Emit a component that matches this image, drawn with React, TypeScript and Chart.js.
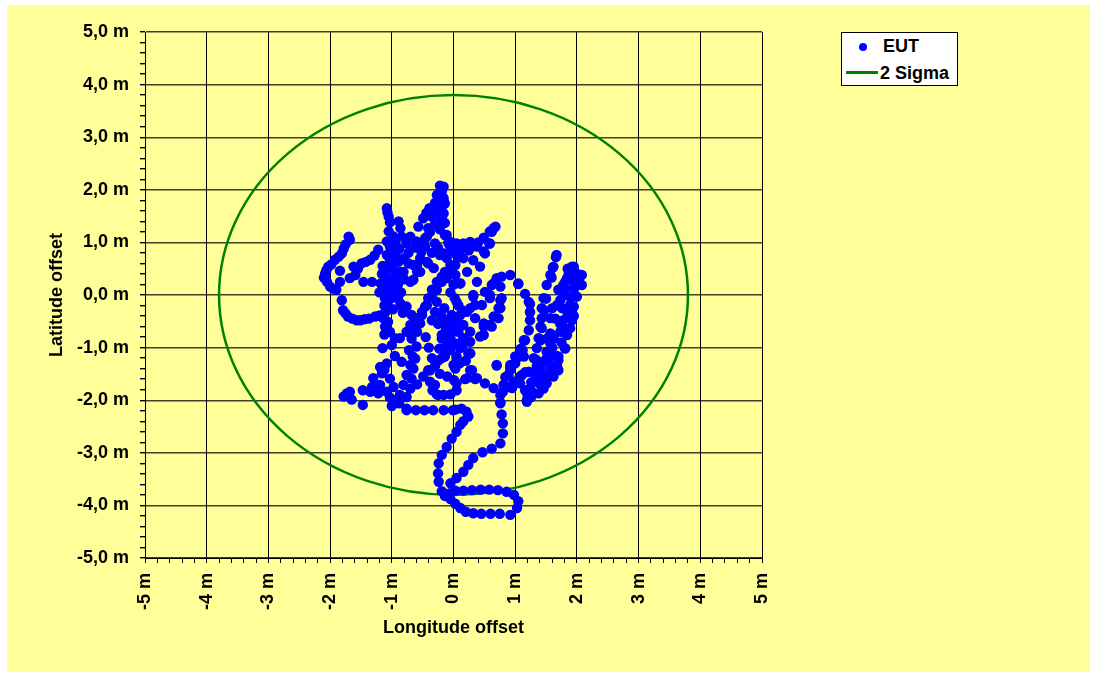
import React, { useEffect, useRef } from 'react';
import { Chart, registerables } from 'chart.js';

Chart.register(...registerables);

// ---------- labels ----------
const SERIES_EUT = 'EUT';
const SERIES_SIGMA = '2 Sigma';
const X_TITLE = 'Longitude offset';
const Y_TITLE = 'Latitude offset';
const MAJOR_TICKS = [-5, -4, -3, -2, -1, 0, 1, 2, 3, 4, 5];
const X_TICK_LABELS = ['-5 m', '-4 m', '-3 m', '-2 m', '-1 m', '0 m', '1 m', '2 m', '3 m', '4 m', '5 m'];
const Y_TICK_LABELS = ['-5,0 m', '-4,0 m', '-3,0 m', '-2,0 m', '-1,0 m', '0,0 m', '1,0 m', '2,0 m', '3,0 m', '4,0 m', '5,0 m'];
const MINOR_STEP = 0.2;
const SIGMA2_RADIUS = 3.8;

// ---------- EUT track (metres, [longitude, latitude]) ----------
const TRACK_SOUTH_LOOP: [number, number][] = [
  [-0.76, -2.19], [-0.61, -2.19], [-0.47, -2.19], [-0.33, -2.19], [-0.16, -2.19], [-0.01, -2.19], [0.03, -2.18], [0.13, -2.16],
  [0.21, -2.22], [0.24, -2.31], [0.16, -2.40], [0.11, -2.47], [0.05, -2.60], [-0.03, -2.73], [-0.11, -2.89], [-0.19, -3.04],
  [-0.24, -3.20], [-0.25, -3.39], [-0.24, -3.55], [-0.19, -3.73], [-0.14, -3.82], [-0.05, -3.88], [0.03, -3.97], [0.11, -4.05],
  [0.20, -4.12], [0.32, -4.15], [0.45, -4.16], [0.60, -4.16], [0.75, -4.16], [0.92, -4.18], [1.03, -4.05], [1.05, -3.92],
  [0.98, -3.80], [0.86, -3.74], [0.72, -3.71], [0.58, -3.70], [0.44, -3.70], [0.30, -3.71], [0.16, -3.72], [0.03, -3.72],
  [-0.06, -3.77], [-0.05, -3.58], [0.05, -3.48], [0.16, -3.36], [0.24, -3.23], [0.32, -3.10], [0.47, -2.99], [0.62, -2.92],
  [0.76, -2.82], [0.80, -2.63], [0.80, -2.44], [0.78, -2.27], [0.76, -2.04],
];

const TRACK_SOUTH_WEST: [number, number][] = [
  [-1.73, -1.87], [-1.78, -1.93], [-1.65, -1.99], [-1.68, -1.84], [-1.47, -2.09], [-1.47, -1.81], [-1.35, -1.84], [-1.32, -1.75],
  [-1.30, -1.58], [-1.19, -1.71], [-1.22, -1.87], [-1.19, -1.37], [-1.16, -1.49], [-1.08, -1.30], [-1.08, -1.84], [-1.03, -1.95],
  [-1.00, -2.11], [-1.03, -1.59], [-1.15, -1.01], [-0.95, -1.16], [-0.88, -2.06], [-0.76, -1.94], [-0.87, -1.90], [-0.81, -1.71],
  [-0.76, -1.52], [-0.70, -1.33], [-0.66, -1.17], [-0.60, -0.98], [-0.62, -1.21], [-0.65, -1.40], [-0.68, -1.59], [-0.70, -1.78],
  [-0.84, -1.27], [-0.76, -2.16], [-0.97, -1.75], [-1.26, -1.80], [-1.12, -1.42], [-0.93, -2.00], [-0.72, -1.05],
];

const TRACK_WEST_LOOP: [number, number][] = [
  [-1.70, 1.11], [-1.68, 1.05], [-1.75, 0.96], [-1.81, 0.79], [-1.92, 0.67], [-2.03, 0.54], [-2.08, 0.41], [-2.10, 0.33],
  [-2.05, 0.25], [-2.00, 0.16], [-1.90, 0.10], [-1.84, 0.46], [-1.84, 0.25], [-1.68, 0.32], [-1.62, 0.54], [-1.49, 0.60],
  [-1.35, 0.67], [-1.22, 0.86], [-1.59, 0.38], [-1.46, 0.25], [-1.32, 0.25], [-1.18, 0.22], [-1.08, 0.32],
  [-1.78, 0.88], [-1.86, 0.73], [-1.98, 0.58], [-2.06, 0.47], [-2.07, 0.30], [-1.95, 0.12], [-1.55, 0.50], [-1.42, 0.63],
  [-1.28, 0.75],
  [-1.81, -0.10], [-1.79, -0.29], [-1.71, -0.41], [-1.57, -0.48], [-1.44, -0.46], [-1.27, -0.41], [-1.11, -0.34], [-0.98, -0.27],
  [-0.85, -0.20], [-1.75, -0.35], [-1.64, -0.45], [-1.51, -0.48], [-1.37, -0.45], [-1.20, -0.39],
];

const TRACK_WEST_ARM: [number, number][] = [
  [-1.08, 1.65], [-1.07, 1.57], [-1.05, 1.49], [-1.03, 1.38], [-0.89, 1.40], [-0.86, 1.27], [-0.84, 1.11], [-1.05, 1.21],
  [-1.08, 1.02], [-1.03, 0.92], [-0.94, 0.79], [-0.89, 0.63], [-0.73, 0.60], [-0.76, 0.98], [-0.65, 0.57], [-0.54, 0.44],
  [-1.08, 0.76], [-0.86, 0.44], [-0.70, 0.25], [-0.97, 0.13], [-1.03, 0.63], [-0.81, 0.44], [-0.92, 0.38], [-0.65, 0.29],
  [-0.59, 0.44], [-0.73, 0.80], [-0.95, 1.00], [-0.70, 1.11],
  [-1.14, 0.03], [-1.11, -0.06], [-1.03, 0.06], [-0.95, 0.00], [-0.86, -0.16], [-0.76, -0.22], [-0.68, -0.38], [-0.70, -0.57],
  [-0.76, -0.70], [-0.87, -0.82], [-0.95, -0.82], [-1.03, -0.70], [-1.06, -0.51], [-1.11, -0.60], [-1.14, -0.44], [-1.09, -0.29],
  [-0.82, -0.34], [-1.15, 0.15], [-1.10, 0.45], [-1.15, 0.55], [-1.00, 0.30], [-0.90, 0.20], [-1.05, 0.20], [-1.12, -0.20],
  [-1.12, -0.75], [-1.00, -0.95], [-1.16, 0.40], [-1.05, -0.10],
  [-1.00, 0.55], [-0.95, 0.45], [-1.12, 0.10], [-0.98, -0.05], [-0.90, -0.05], [-1.08, 0.50], [-0.85, 0.05], [-0.80, 0.30],
  [-1.20, 0.05], [-0.92, 0.10], [-1.00, 0.72], [-0.88, 0.88], [-0.98, 1.12], [-0.80, 0.70],
];

const TRACK_NORTH_PEAK: [number, number][] = [
  [-0.22, 2.08], [-0.16, 2.06], [-0.19, 1.97], [-0.27, 1.90], [-0.16, 1.84], [-0.14, 1.74], [-0.22, 1.80], [-0.39, 1.65],
  [-0.19, 1.68], [-0.44, 1.56], [-0.49, 1.46], [-0.35, 1.49], [-0.19, 1.46], [-0.16, 1.55], [-0.14, 1.37], [-0.57, 1.30],
  [-0.41, 1.27], [-0.14, 1.14], [-0.11, 1.14], [-0.43, 1.11], [-0.46, 1.08], [-0.49, 0.92], [-0.46, 0.92], [-0.54, 0.70],
  [-0.59, 0.57], [-0.43, 0.63], [-0.41, 0.60], [-0.32, 0.51], [-0.22, 0.76], [-0.16, 0.79], [-0.05, 0.57], [-0.14, 0.44],
  [-0.19, 0.35], [-0.27, 0.25], [-0.35, 0.10], [-0.41, -0.06], [-0.46, -0.22], [-0.51, -0.38], [-0.54, -0.54], [-0.59, -0.70],
  [-0.68, -0.83], [-0.60, 1.02], [-0.38, 1.20], [-0.30, 0.98], [-0.25, 0.90], [-0.08, 0.98], [-0.03, 1.00], [-0.05, 0.85],
  [-0.11, 0.70], [-0.19, 0.79], [-0.11, 0.76], [0.00, 0.92], [0.05, 0.98], [-0.08, 1.02],
  [-0.30, 1.35], [-0.25, 1.60], [-0.30, 1.75], [-0.22, 1.25], [-0.35, 0.80], [-0.52, 0.82], [-0.62, 0.90],
];

const TRACK_CENTER: [number, number][] = [
  [-0.49, -1.55], [-0.41, -1.43], [-0.38, -1.43], [-0.59, -1.70], [-0.38, -1.65], [-0.34, -1.81], [-0.27, -1.89], [-0.16, -1.90],
  [-0.05, -1.89], [0.05, -1.81], [0.01, -1.62], [0.03, -1.40], [0.05, -1.21], [-0.14, -1.17], [-0.24, -1.24], [-0.19, -1.20],
  [-0.14, -1.01], [-0.23, -1.02], [-0.19, -0.83], [-0.12, -0.65], [-0.06, -0.46], [-0.30, -1.71], [-0.25, -1.90],
  [-0.70, -0.70], [-0.65, -0.57], [-0.59, -0.44], [-0.51, -0.32], [-0.43, -0.19], [-0.35, -0.03], [-0.27, 0.10], [-0.19, 0.25],
  [-0.11, 0.38], [-0.03, 0.48], [-0.27, -0.13], [-0.30, -0.32], [-0.35, -0.48], [-0.11, -0.51], [-0.19, -0.76], [-0.03, -0.38],
  [0.00, -0.63], [0.00, -1.33], [0.02, -0.06], [0.05, -0.13], [0.11, -0.38], [0.16, -0.57], [0.08, -0.70], [0.16, -0.83],
  [0.27, -0.89], [0.03, -0.92], [0.11, -1.01], [0.05, -1.17], [0.14, -0.98], [0.24, -1.11], [0.27, -1.11], [0.30, -1.43],
  [0.27, -1.43], [-0.08, -0.70], [-0.05, -1.05], [0.03, 0.38], [-0.11, 0.32], [0.03, 0.57], [0.11, 0.22], [0.00, 0.20],
  [-0.05, 0.05],
  [-0.25, -0.55], [-0.20, -0.40], [-0.15, -0.25], [-0.10, -0.90], [-0.05, -0.80], [0.05, -0.50], [-0.40, -1.00], [-0.35, -1.20],
  [-0.30, -1.35], [-0.45, -0.80], [0.10, -1.30], [0.20, -1.25], [0.15, -0.30], [0.08, -0.20], [-0.22, -1.50], [-0.10, -1.55],
];

const TRACK_CENTER_EAST: [number, number][] = [
  [0.68, 1.30], [0.62, 1.20], [0.49, 1.09], [0.58, 0.98], [0.38, 0.92], [0.27, 1.01], [0.16, 0.98], [0.08, 0.95],
  [0.11, 0.73], [0.32, 0.66], [0.51, 0.79], [0.43, 0.54], [0.22, 0.44], [0.38, 0.25], [0.11, 0.22], [0.65, 0.22],
  [0.78, 0.35], [0.92, 0.38], [1.05, 0.22], [0.76, 0.16], [0.70, 0.32], [0.32, -0.03], [0.59, -0.06], [0.76, -0.10],
  [0.27, -0.25], [0.46, -0.19], [0.76, -0.25], [0.73, -0.44], [0.35, -0.44], [0.49, -0.60], [0.62, -0.60], [0.27, -0.70],
  [0.49, -0.76], [0.16, -0.82], [0.27, -1.11], [0.70, -1.33], [0.92, -1.33], [0.89, -1.52], [0.81, -1.71], [0.05, -1.68],
  [0.22, -1.58], [0.38, -1.58], [0.51, -1.68], [0.65, -1.77], [0.76, -1.90], [0.76, -2.06], [0.95, -1.77], [0.19, -1.60],
  [0.35, -1.60], [0.43, -0.79], [0.59, -0.57], [0.65, -0.41], [0.73, -0.25], [0.78, -0.06], [0.62, 0.19], [0.51, 0.06],
  [0.59, 0.00], [0.49, -0.54], [0.22, -0.32], [0.35, -0.19], [0.32, 0.00], [0.16, 0.70], [0.05, 0.76], [0.49, 0.83],
  [0.59, 0.98], [0.65, 1.27], [0.59, 1.21], [0.10, 0.85], [0.25, 0.85], [0.40, 1.00],
];

const TRACK_EAST: [number, number][] = [
  [1.19, -2.03], [1.20, -1.90], [1.24, -1.78], [1.38, -1.87], [1.46, -1.78], [1.51, -1.68], [1.54, -1.52], [1.57, -1.40],
  [1.70, -1.43], [1.70, -1.24], [1.81, -1.02], [1.84, -0.76], [1.89, -0.63], [1.92, -0.48], [1.78, -0.48], [1.62, -0.83],
  [1.57, -0.92], [1.51, -1.08], [1.46, -1.27], [1.41, -1.40], [1.35, -1.52], [1.31, -1.65], [1.08, -1.05], [1.14, -1.17],
  [1.16, -1.47], [1.07, -1.56], [0.98, -1.65], [0.89, -1.75], [0.80, -1.84], [1.00, -1.17], [1.09, -1.02], [1.16, -0.86],
  [1.22, -0.67], [1.24, -0.48], [1.24, -0.32], [1.22, -0.13], [1.46, -0.06], [1.43, -0.25], [1.43, -0.44], [1.41, -0.60],
  [1.38, -0.82], [1.35, -1.01], [1.30, -1.20], [1.22, -1.46], [1.11, -1.52], [1.08, -1.68], [1.16, -1.81], [1.27, -1.84],
  [1.19, -2.00], [1.57, -0.73], [1.73, -0.70], [1.81, -1.01], [1.70, -1.17], [1.62, -0.82], [1.51, -1.20], [1.57, -1.33],
  [1.68, -1.36], [1.51, -1.52], [1.41, -1.71], [1.60, -0.25], [1.76, -0.25], [1.89, -0.19], [2.00, -0.03], [1.66, 0.72],
  [1.67, 0.76], [1.61, 0.52], [1.62, 0.54], [1.59, 0.33], [1.57, 0.38], [1.50, -0.07], [1.47, -0.29], [1.43, -0.63],
  [1.41, -0.86], [1.34, -1.23], [1.30, -1.47], [1.26, -1.66], [1.26, -1.94], [1.92, 0.54], [1.97, 0.44], [2.05, 0.38],
  [2.08, 0.19], [1.87, 0.41], [1.81, 0.25], [1.95, 0.54], [1.89, 0.44], [2.00, 0.38], [2.08, 0.38], [1.97, 0.19],
  [1.95, -0.22], [1.84, 0.32], [1.78, 0.19], [1.76, 0.06], [1.73, -0.10], [1.68, -0.19], [1.57, -0.44], [1.73, -0.55],
  [1.55, -1.17], [1.51, -0.83], [1.05, 0.21], [1.16, 0.02], [1.24, -0.17], [1.24, -0.33], [1.14, -0.86], [1.12, -1.05],
  [1.05, -1.18], [1.00, -1.30], [0.92, -1.43], [0.84, -1.56], [0.70, -1.34], [0.92, -1.37], [1.51, 0.19], [1.95, 0.10],
  [2.02, 0.28], [1.90, 0.30], [1.85, -0.35], [1.95, -0.40],
  [1.60, -1.00], [1.65, -1.15], [1.75, -0.90], [1.78, -0.62], [1.65, -0.45], [1.80, 0.00], [1.70, 0.10], [1.62, -1.55],
  [1.45, -1.55], [1.35, -1.35], [1.90, -0.05], [1.85, 0.50], [1.82, 0.12],
];

const EUT_TRACK = [
  ...TRACK_SOUTH_LOOP, ...TRACK_SOUTH_WEST, ...TRACK_WEST_LOOP, ...TRACK_WEST_ARM,
  ...TRACK_NORTH_PEAK, ...TRACK_CENTER, ...TRACK_CENTER_EAST, ...TRACK_EAST,
];

const FONT_FAMILY = '"Liberation Sans", Arial, Helvetica, sans-serif';

const isMajor = (v: number) => Math.abs(v - Math.round(v)) < 1e-6;

const sigmaCirclePlugin = {
  id: 'sigmaCircle',
  beforeDatasetsDraw(chart: any) {
    const { ctx, scales } = chart;
    const xs = scales.x, ys = scales.y;
    const cx = xs.getPixelForValue(0);
    const cy = ys.getPixelForValue(0);
    const rx = xs.getPixelForValue(SIGMA2_RADIUS) - cx;
    const ry = cy - ys.getPixelForValue(SIGMA2_RADIUS);
    ctx.save();
    ctx.beginPath();
    ctx.ellipse(cx, cy, rx, ry, 0, 0, Math.PI * 2);
    ctx.strokeStyle = '#008000';
    ctx.lineWidth = 2.5;
    ctx.stroke();
    ctx.restore();
  },
};

function buildMinorTicks(scale: any) {
  const ticks: { value: number }[] = [];
  const n = Math.round((MAJOR_TICKS[MAJOR_TICKS.length - 1] - MAJOR_TICKS[0]) / MINOR_STEP);
  for (let i = 0; i <= n; i++) {
    ticks.push({ value: Math.round((MAJOR_TICKS[0] + i * MINOR_STEP) * 1000) / 1000 });
  }
  scale.ticks = ticks;
}

export default function App() {
  const canvasRef = useRef<HTMLCanvasElement | null>(null);

  useEffect(() => {
    if (!canvasRef.current) return;
    const tickFont = { family: FONT_FAMILY, size: 18, weight: 'bold' as const };
    const chart = new Chart(canvasRef.current, {
      type: 'scatter',
      data: {
        datasets: [
          {
            label: SERIES_EUT,
            data: EUT_TRACK.map(([x, y]) => ({ x, y })),
            backgroundColor: '#0000ff',
            borderColor: '#0000ff',
            borderWidth: 0,
            pointRadius: 5.2,
            pointHoverRadius: 5.2,
          },
        ],
      },
      options: {
        animation: false,
        responsive: false,
        devicePixelRatio: 1,
        events: [],
        layout: { padding: { left: 42, top: 32, right: 334, bottom: 34 } },
        plugins: { legend: { display: false }, tooltip: { enabled: false } },
        scales: {
          x: {
            type: 'linear',
            min: MAJOR_TICKS[0],
            max: MAJOR_TICKS[MAJOR_TICKS.length - 1],
            afterBuildTicks: buildMinorTicks,
            afterFit: (scale: any) => { scale.height = 85; },
            border: { display: true, color: '#000', width: 1 },
            grid: {
              color: (ctx: any) => (isMajor(ctx.tick?.value ?? 0.5) ? '#000' : 'rgba(0,0,0,0)'),
              tickColor: '#000',
              tickLength: 5,
              lineWidth: 1,
            },
            ticks: {
              autoSkip: false,
              minRotation: 90,
              maxRotation: 90,
              padding: 10,
              color: '#000',
              font: tickFont,
              callback: (v: any) => {
                const val = Number(v);
                if (!isMajor(val)) return '';
                return X_TICK_LABELS[MAJOR_TICKS.indexOf(Math.round(val))];
              },
            },
            title: { display: true, text: X_TITLE, color: '#000', font: tickFont },
          },
          y: {
            type: 'linear',
            min: MAJOR_TICKS[0],
            max: MAJOR_TICKS[MAJOR_TICKS.length - 1],
            afterBuildTicks: buildMinorTicks,
            afterFit: (scale: any) => { scale.width = 103; },
            border: { display: true, color: '#000', width: 1 },
            grid: {
              color: (ctx: any) => (isMajor(ctx.tick?.value ?? 0.5) ? 'rgba(0,0,0,0.75)' : 'rgba(0,0,0,0)'),
              tickColor: '#000',
              tickLength: 5,
              lineWidth: 1.4,
            },
            ticks: {
              autoSkip: false,
              padding: 11,
              color: '#000',
              font: tickFont,
              callback: (v: any) => {
                const val = Number(v);
                if (!isMajor(val)) return '';
                return Y_TICK_LABELS[MAJOR_TICKS.indexOf(Math.round(val))];
              },
            },
            title: { display: true, text: Y_TITLE, color: '#000', font: tickFont },
          },
        },
      },
      plugins: [sigmaCirclePlugin],
    } as any);
    return () => chart.destroy();
  }, []);

  const textStyle: React.CSSProperties = {
    position: 'absolute',
    fontFamily: FONT_FAMILY,
    fontWeight: 'bold',
    fontSize: 18,
    lineHeight: '20px',
    color: '#000',
    whiteSpace: 'nowrap',
  };

  return (
    <div style={{ position: 'fixed', left: 0, top: 0, width: 1096, height: 677, background: '#fff' }}>
      <div style={{ position: 'absolute', left: 7, top: 5, width: 1083, height: 667, background: '#ffff99' }} />
      <canvas ref={canvasRef} width={1096} height={677} style={{ position: 'absolute', left: 0, top: 0, width: 1096, height: 677 }} />
      <div
        style={{
          position: 'absolute', left: 841, top: 32, width: 117, height: 54,
          boxSizing: 'border-box', border: '1px solid #000', background: '#fff',
        }}
      >
        <div style={{ position: 'absolute', left: 17, top: 10, width: 8, height: 8, borderRadius: '50%', background: '#0000ff' }} />
        <div style={{ ...textStyle, left: 41, top: 3 }}>{SERIES_EUT}</div>
        <div style={{ position: 'absolute', left: 4, top: 38, width: 32, height: 3, background: '#008000' }} />
        <div style={{ ...textStyle, left: 38, top: 30 }}>{SERIES_SIGMA}</div>
      </div>
    </div>
  );
}
